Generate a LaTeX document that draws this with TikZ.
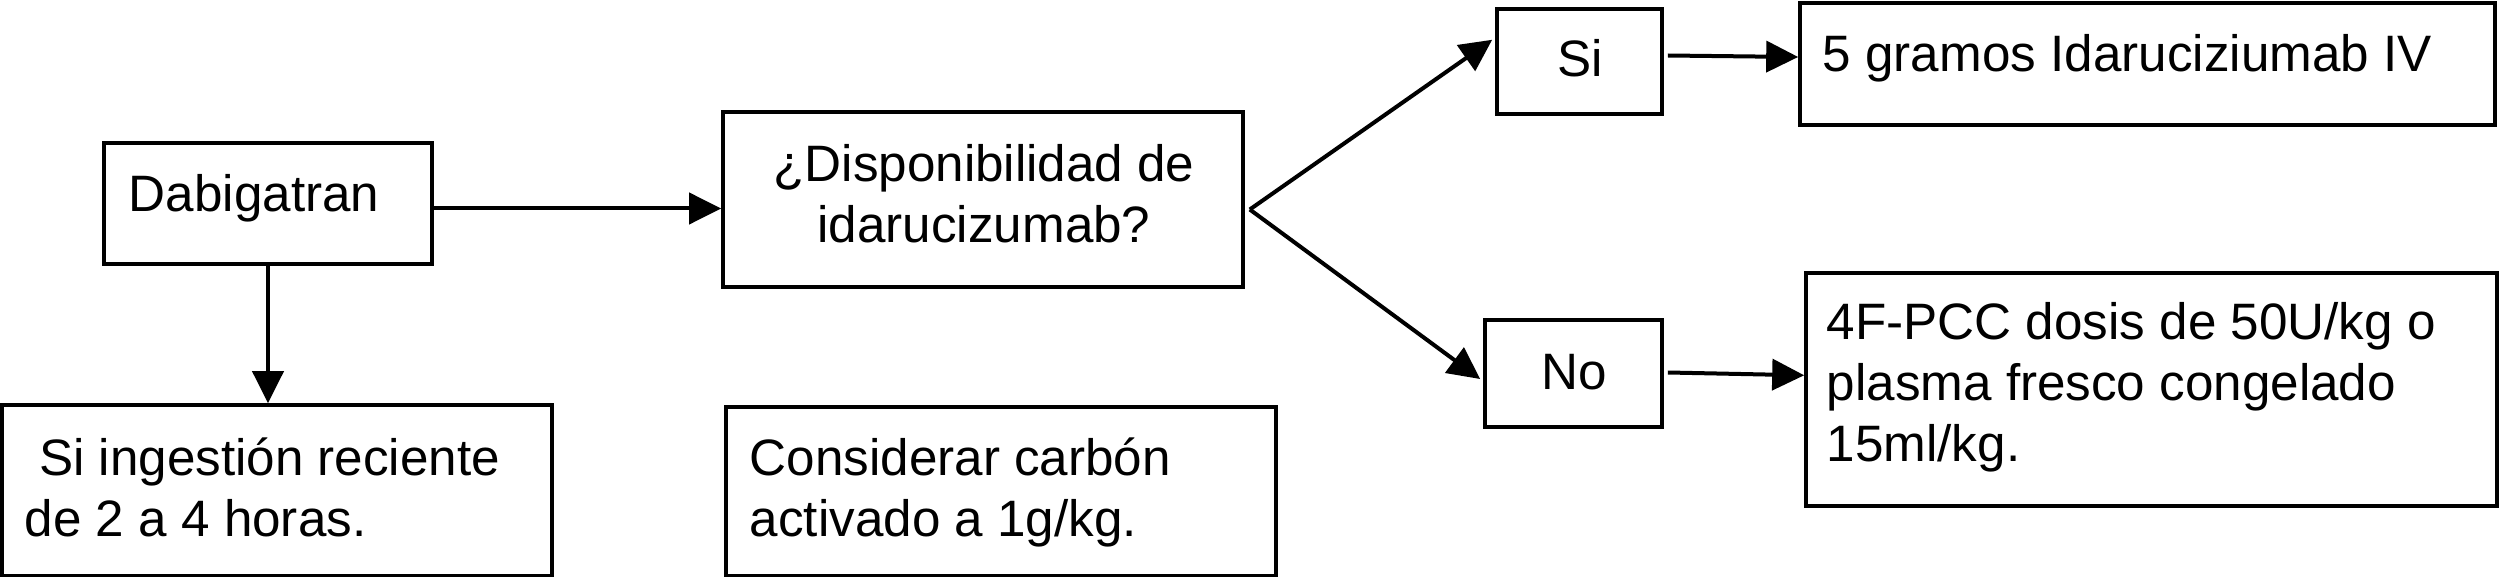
\documentclass[tikz,border=0pt]{standalone}
\usepackage{fontspec}
\setmainfont{Liberation Sans}
\usetikzlibrary{arrows.meta,calc}
\begin{document}
\begin{tikzpicture}[x=0.25pt,y=-0.25pt,
  box/.style={draw,line width=0.9pt,inner sep=0pt,rectangle},
  txt/.style={inner sep=0pt,align=left,font=\fontsize{12.8pt}{15.25pt}\selectfont},
  arr/.style={line width=1pt,-{Triangle[length=8pt,width=7.75pt]}}]
\useasboundingbox (0,0) rectangle (2500,577);
% boxes
\node[box,minimum width=82pt,minimum height=30.25pt] (dab) at (268,203.5) {};
\node[box,minimum width=130pt,minimum height=43.75pt] (disp) at (983,199.5) {};
\node[box,minimum width=137.5pt,minimum height=42.75pt] (sii) at (277,490.5) {};
\node[box,minimum width=137.5pt,minimum height=42.25pt] (cons) at (1001,491.5) {};
\node[box,minimum width=41.25pt,minimum height=26.25pt] (si) at (1579.5,61.5) {};
\node[box,minimum width=173.75pt,minimum height=30.5pt] (g5) at (2147.5,64) {};
\node[box,minimum width=44.25pt,minimum height=26.75pt] (no) at (1573.5,373.5) {};
\node[box,minimum width=172.75pt,minimum height=58.25pt] (pcc) at (2151.5,389.5) {};
% texts (multi-line nodes: base anchor is the last line)
\node[txt,anchor=base west] (tdab) at (128,212) {Dabigatran};
\node[txt,anchor=base,align=center] (tdisp) at (984,243) {¿Disponibilidad de\\idarucizumab?};
\node[txt,anchor=base west] (tsii) at (24,537) {\ Si ingestión reciente\\de 2 a 4 horas.};
\node[txt,anchor=base west] (tcons) at (749,537) {Considerar carbón\\activado a 1g/kg.};
\node[txt,anchor=base] (tsi) at (1580,77) {Si};
\node[txt,anchor=base] (tno) at (1574,390) {No};
\node[txt,anchor=base west] (tg5) at (1822,72) {5 gramos Idaruciziumab IV};
\node[txt,anchor=base west] (tpcc) at (1826,462) {4F-PCC dosis de 50U/kg o\\plasma fresco congelado\\15ml/kg.};
% connectors
\coordinate (br) at ($(disp.east)+(5,10)$);
\coordinate (dabout) at ($(dab.east)+(0,5)$);
\draw[arr] (dabout) -- (dabout -| disp.west);
\draw[arr] (dab.south) -- (dab.south |- sii.north);
\draw[arr] (br) -- ($(si.north west)!0.3!(si.south west)+(-3,0)$);
\draw[arr] (br) -- ($(no.north west)!0.55!(no.south west)+(-3,0)$);
\draw[arr] ($(si.east)+(4,-6)$) -- ($(g5.west)+(0,-7)$);
\draw[arr] ($(no.east)+(4,-1)$) -- ($(pcc.north west)!0.44!(pcc.south west)$);
\end{tikzpicture}
\end{document}
